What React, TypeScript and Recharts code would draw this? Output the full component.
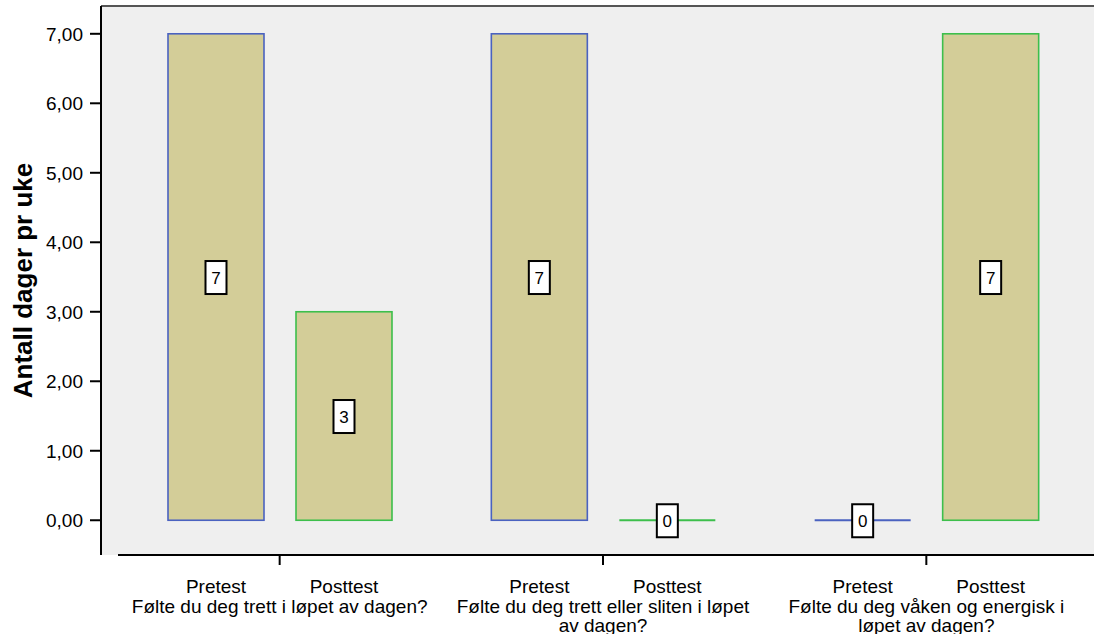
import * as React from "react";
import { BarChart, Bar, XAxis, YAxis, CartesianGrid, ReferenceLine, LabelList } from "recharts";

const categories = [
  "Følte du deg trett i løpet av dagen?",
  "Følte du deg trett eller sliten i løpet av dagen?",
  "Følte du deg våken og energisk i løpet av dagen?",
];
// wrapped tick text, one entry per category
const categoryLines = [
  ["Følte du deg trett i løpet av dagen?"],
  ["Følte du deg trett eller sliten i løpet", "av dagen?"],
  ["Følte du deg våken og energisk i", "løpet av dagen?"],
];
const seriesNames = ["Pretest", "Posttest"];
const pretest = [7, 7, 0];
const posttest = [3, 0, 7];
const yTicks = [0, 1, 2, 3, 4, 5, 6, 7];

const data = categories.map((c, i) => ({ category: c, pretest: pretest[i], posttest: posttest[i] }));

const FONT = "'Liberation Sans', Arial, sans-serif";
const BAR_FILL = "#d3cd98";
const BLUE = "#4a62c0";
const GREEN = "#3dbf4c";
const NAME_BASELINE = 593;
const TEXT_SIZE = 19;

function BarShape(props: any) {
  const { x, y, width, height, stroke } = props;
  if (!height) {
    return <line x1={x} x2={x + width} y1={y} y2={y} stroke={stroke} strokeWidth={2} />;
  }
  return <rect x={x} y={y} width={width} height={height} fill={BAR_FILL} stroke={stroke} strokeWidth={1.6} />;
}

function ValueBox(props: any) {
  const vb = props.viewBox || props;
  const cx = vb.x + vb.width / 2;
  const cy = vb.y + vb.height / 2;
  return (
    <g>
      <rect x={cx - 10.5} y={cy - 16} width={21} height={33} fill="#fff" stroke="#000" strokeWidth={2} />
      <text x={cx} y={cy + 6.5} textAnchor="middle" fontSize={17} fontFamily={FONT} fill="#000">{props.value}</text>
    </g>
  );
}

function nameLabel(name: string) {
  return (props: any) => {
    const vb = props.viewBox || props;
    return (
      <text x={vb.x + vb.width / 2} y={NAME_BASELINE} textAnchor="middle" fontSize={TEXT_SIZE} fontFamily={FONT} fill="#000">{name}</text>
    );
  };
}

function CategoryTick(props: any) {
  const { x, y, index } = props;
  const lines = categoryLines[index] || [];
  return (
    <g>
      {lines.map((l, i) => (
        <text key={i} x={x} y={y + 48 + i * 19} textAnchor="middle" fontSize={TEXT_SIZE} fontFamily={FONT} fill="#000">{l}</text>
      ))}
    </g>
  );
}

// bottom axis starts a little right of the y axis
function BottomLine(props: any) {
  const { x1, y1, x2, y2 } = props;
  return <line x1={x1 + 17} x2={x2} y1={y1} y2={y2} stroke="#000" strokeWidth={2} />;
}

const fmt = (v: number) => v.toFixed(2).replace(".", ",");

export default function App() {
  return (
    <div style={{ position: "absolute", left: 0, top: 0, fontFamily: FONT, background: "#fff" }}>
      <BarChart width={1094} height={634} data={data} margin={{ top: 6, right: 0, bottom: 0, left: 0 }} barSize={96} barGap={32}>
        <CartesianGrid horizontal={false} vertical={false} fill="#efefef" />
        <XAxis
          dataKey="category"
          height={79}
          padding={{ left: 17, right: 6 }}
          axisLine={false}
          tickSize={10}
          tickMargin={0}
          tickLine={{ stroke: "#000", strokeWidth: 2 }}
          tick={<CategoryTick />}
          interval={0}
        />
        <YAxis
          width={101}
          domain={[-0.5, 7.4]}
          ticks={yTicks}
          tickFormatter={fmt}
          allowDataOverflow
          axisLine={{ stroke: "#000", strokeWidth: 2 }}
          tickLine={{ stroke: "#000", strokeWidth: 2 }}
          tickSize={11}
          tickMargin={7}
          tick={{ fontSize: TEXT_SIZE, fill: "#000", fontFamily: FONT }}
          label={(p: any) => {
            const vb = p.viewBox;
            const cx = 32;
            const cy = vb.y + vb.height / 2;
            return (
              <text x={cx} y={cy} transform={`rotate(-90 ${cx} ${cy})`} textAnchor="middle" fontSize={26} fontWeight="bold" fontFamily={FONT} fill="#000">
                Antall dager pr uke
              </text>
            );
          }}
        />
        <ReferenceLine y={7.4} stroke="#555" strokeWidth={2} />
        <ReferenceLine y={-0.5} shape={<BottomLine />} />
        <Bar dataKey="pretest" name={seriesNames[0]} stroke={BLUE} shape={<BarShape />} isAnimationActive={false}>
          <LabelList dataKey="pretest" content={<ValueBox />} />
          <LabelList dataKey="pretest" content={nameLabel(seriesNames[0])} />
        </Bar>
        <Bar dataKey="posttest" name={seriesNames[1]} stroke={GREEN} shape={<BarShape />} isAnimationActive={false}>
          <LabelList dataKey="posttest" content={<ValueBox />} />
          <LabelList dataKey="posttest" content={nameLabel(seriesNames[1])} />
        </Bar>
      </BarChart>
    </div>
  );
}
